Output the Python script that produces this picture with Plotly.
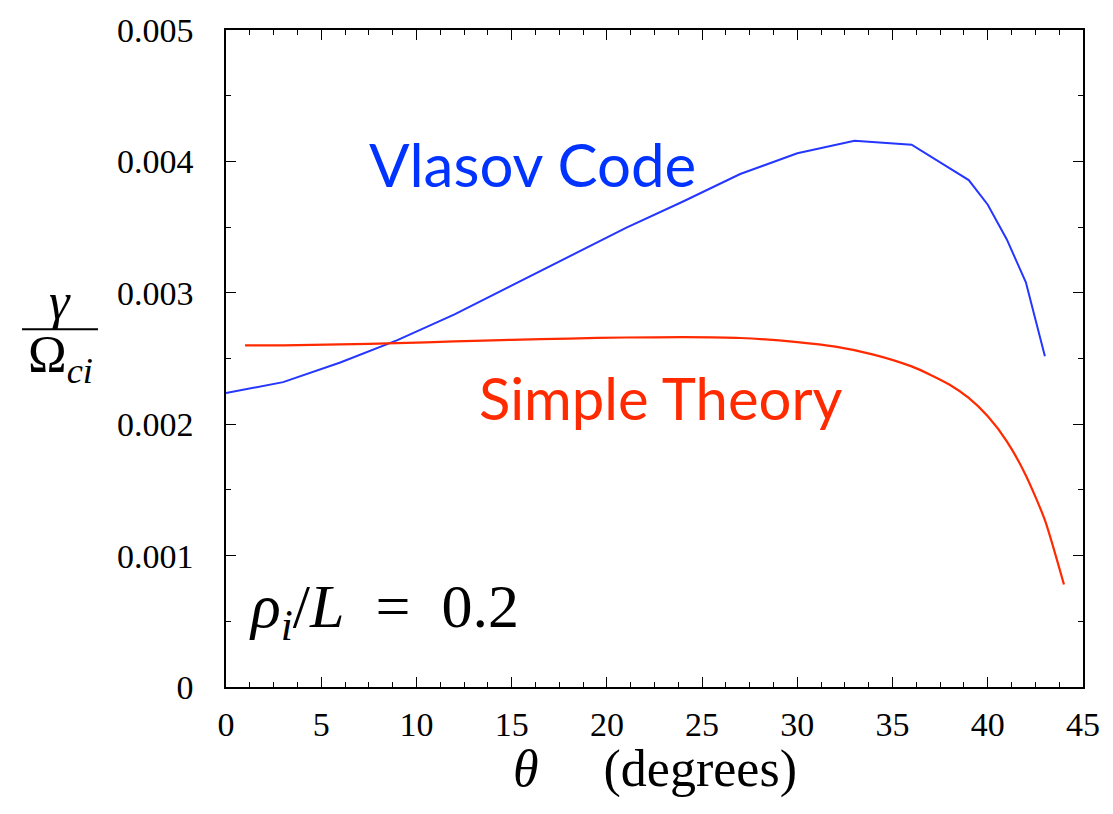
import plotly.graph_objects as go

# Vlasov code growth rate
theta_vlasov = [0, 3, 6, 9, 12, 15, 18, 21, 24, 27, 30, 33, 36, 39, 40, 41, 42, 43]
gamma_vlasov = [0.002238, 0.00232, 0.00247, 0.00264, 0.002836, 0.003054, 0.00327, 0.003494,
                0.003695, 0.003904, 0.004062, 0.004157, 0.004127, 0.003858, 0.00367,
                0.003406, 0.00308, 0.002517]

# Simple theory growth rate
theta_theory = [1, 3, 6, 9, 12, 15, 18, 21, 24, 27, 30, 32, 34, 36, 37, 38, 39, 40, 41, 42, 43, 44]
gamma_theory = [0.0026, 0.0026, 0.002607, 0.002617, 0.00263, 0.002642, 0.002652, 0.00266,
                0.002662, 0.002656, 0.002625, 0.00259, 0.00253, 0.00244, 0.002375, 0.0023,
                0.0022, 0.00206, 0.00187, 0.00161, 0.00127, 0.00078]

x_ticks = [0, 5, 10, 15, 20, 25, 30, 35, 40, 45]
y_ticks = [0, 0.001, 0.002, 0.003, 0.004, 0.005]
y_ticklabels = ["0", "0.001", "0.002", "0.003", "0.004", "0.005"]

BLUE = "#2436ff"
RED = "#ff2a00"
SERIF = "Liberation Serif, Times New Roman, serif"
SANS = "Lato, Open Sans, sans-serif"

fig = go.Figure()
fig.add_trace(go.Scatter(x=theta_vlasov, y=gamma_vlasov, mode="lines",
                         line=dict(color=BLUE, width=2), showlegend=False))
fig.add_trace(go.Scatter(x=theta_theory, y=gamma_theory, mode="lines",
                         line=dict(color=RED, width=2.2, shape="spline", smoothing=0.6),
                         showlegend=False))

W, H = 1113, 814
ml, mr, mt, mb = 226, 30, 24, 127
pw = W - ml - mr
ph = H - mt - mb

def px_x(p):
    return (p - ml) / pw

def px_y(p):
    return (H - mb - p) / ph

fig.update_layout(
    width=W, height=H,
    margin=dict(l=ml, r=mr, t=mt, b=mb, pad=0),
    paper_bgcolor="white", plot_bgcolor="white",
    font=dict(family=SERIF, color="black"),
    xaxis=dict(range=[0, 45], tickvals=x_ticks, ticks="inside", ticklen=10, tickwidth=1.2,
               tickcolor="black", showline=True, linecolor="black", linewidth=1.5,
               mirror="allticks", showgrid=False, zeroline=False,
               tickfont=dict(family=SERIF, size=34), ticklabelstandoff=6,
               minor=dict(dtick=1.25, ticks="inside", ticklen=5, tickcolor="black", tickwidth=1)),
    yaxis=dict(range=[0, 0.005], tickvals=y_ticks, ticktext=y_ticklabels, ticks="inside",
               ticklen=10, tickwidth=1.2, tickcolor="black", showline=True, linecolor="black",
               linewidth=1.5, mirror="allticks", showgrid=False, zeroline=False,
               tickfont=dict(family=SERIF, size=34), ticklabelstandoff=24,
               minor=dict(dtick=0.0005, ticks="inside", ticklen=5, tickcolor="black", tickwidth=1)),
)

annotations = [
    dict(x=16.07, y=0.00398, xref="x", yref="y", text="Vlasov Code", showarrow=False,
         font=dict(family=SANS, size=60, color="#0033ff"), xanchor="center", yanchor="middle"),
    dict(x=22.85, y=0.00220, xref="x", yref="y", text="Simple Theory", showarrow=False,
         font=dict(family=SANS, size=58, color=RED), xanchor="center", yanchor="middle"),
    dict(x=1.1, y=0.00058, xref="x", yref="y",
         text="<i>ρ</i><sub><i>i</i></sub>/<i>L</i>&nbsp; = &nbsp;0.2", showarrow=False,
         font=dict(family=SERIF, size=62, color="black"), xanchor="left", yanchor="middle"),
    dict(x=px_x(60), y=px_y(298), xref="paper", yref="paper", text="<i>γ</i>", showarrow=False,
         font=dict(family=SERIF, size=52, color="black"), xanchor="center", yanchor="middle"),
    dict(x=px_x(60), y=px_y(356), xref="paper", yref="paper", text="Ω<sub><i>ci</i></sub>",
         showarrow=False, font=dict(family=SERIF, size=52, color="black"),
         xanchor="center", yanchor="middle"),
    dict(x=0.5, y=px_y(770), xref="paper", yref="paper",
         text="<i>θ</i>&nbsp;&nbsp;&nbsp;&nbsp; (degrees)", showarrow=False,
         font=dict(family=SERIF, size=52, color="black"), xanchor="center", yanchor="middle"),
]
fig.update_layout(annotations=annotations)
fig.add_shape(type="line", xref="paper", yref="paper", x0=px_x(22), x1=px_x(98),
              y0=px_y(326), y1=px_y(326), line=dict(color="black", width=2))

fig.write_html("out.html")
